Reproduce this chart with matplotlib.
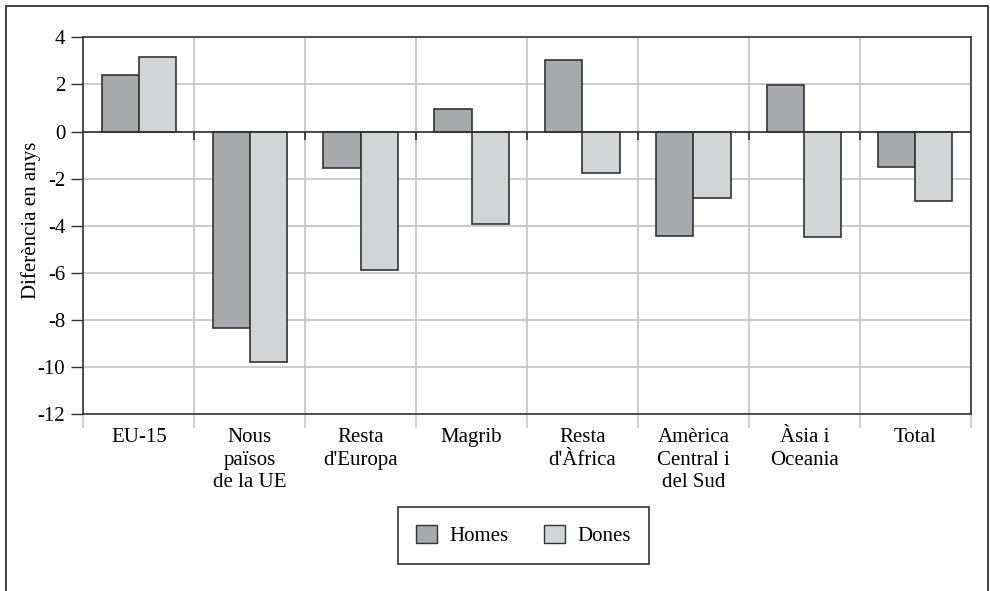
import matplotlib
matplotlib.use("Agg")
import matplotlib.pyplot as plt
import numpy as np
from matplotlib.patches import Rectangle, Patch

plt.rcParams['font.family'] = ['Liberation Serif', 'DejaVu Serif']

# data
categories = ["EU-15", "Nous\npaïsos\nde la UE", "Resta\nd'Europa", "Magrib",
              "Resta\nd'Àfrica", "Amèrica\nCentral i\ndel Sud", "Àsia i\nOceania", "Total"]
homes = [2.40, -8.32, -1.56, 0.95, 3.03, -4.42, 1.98, -1.49]
dones = [3.17, -9.79, -5.89, -3.94, -1.77, -2.82, -4.49, -2.96]
yticks = [4, 2, 0, -2, -4, -6, -8, -10, -12]

c_homes = "#a8a9ac"
c_dones = "#d3d4d6"
dark = "#333333"
grid = "#c8c8c8"
fs = 15

fig = plt.figure(figsize=(9.9, 5.91), dpi=100)
W, H = 990, 591
ax = fig.add_axes([83.3 / W, 1 - 414.3 / H, (970.7 - 83.3) / W, (414.3 - 37.3) / H])

x = np.arange(len(categories))
w = 0.335
ax.bar(x - w / 2, homes, w, color=c_homes, edgecolor=dark, linewidth=1.2, zorder=3, label="Homes")
ax.bar(x + w / 2, dones, w, color=c_dones, edgecolor=dark, linewidth=1.2, zorder=3, label="Dones")

ax.set_xlim(-0.5, len(categories) - 0.5)
ax.set_ylim(-12, 4)
ax.set_yticks(yticks)
ax.set_yticklabels([str(v) for v in yticks], fontsize=fs)

bounds = np.arange(len(categories) + 1) - 0.5
ax.set_xticks(x)
ax.set_xticklabels(categories, fontsize=fs, linespacing=1.25, va="top")
ax.set_xticks(bounds, minor=True)
ax.tick_params(axis="x", which="major", length=0, pad=10)
ax.tick_params(axis="x", which="minor", length=10, color=grid, width=1.2)
ax.tick_params(axis="y", length=9, width=1, color=dark, pad=4)

ax.grid(True, axis="y", color=grid, linewidth=1.3, zorder=0)
ax.grid(True, axis="x", which="minor", color=grid, linewidth=1.3, zorder=0)

# category axis at zero with downward ticks
ax.axhline(0, color=dark, linewidth=1.2, zorder=4)
ax.vlines(bounds[1:-1], -0.35, 0, color=dark, linewidth=1.2, zorder=4)

for s in ax.spines.values():
    s.set_color(dark)
    s.set_linewidth(1.2)

ax.set_ylabel("Diferència en anys", fontsize=fs, va="center")
ax.yaxis.set_label_coords(-0.059, 0.515)

handles = [Patch(facecolor=c_homes, edgecolor=dark, linewidth=1),
           Patch(facecolor=c_dones, edgecolor=dark, linewidth=1)]
leg = fig.legend(handles, ["Homes", "Dones"], loc="center", bbox_to_anchor=(523.5 / W, 1 - 535.5 / H),
                 ncol=2, fontsize=fs, fancybox=False, edgecolor=dark, framealpha=1,
                 handlelength=1.0, handleheight=1.0, handletextpad=0.6, columnspacing=1.7,
                 borderpad=0.85, borderaxespad=0)
leg.get_frame().set_linewidth(1.2)

# outer frame
fig.add_artist(Rectangle((6 / W, -0.02), (987.5 - 6) / W, 1.02 - 6 / H, transform=fig.transFigure,
                         fill=False, edgecolor=dark, linewidth=1.3))

fig.savefig("out.png", dpi=100)
